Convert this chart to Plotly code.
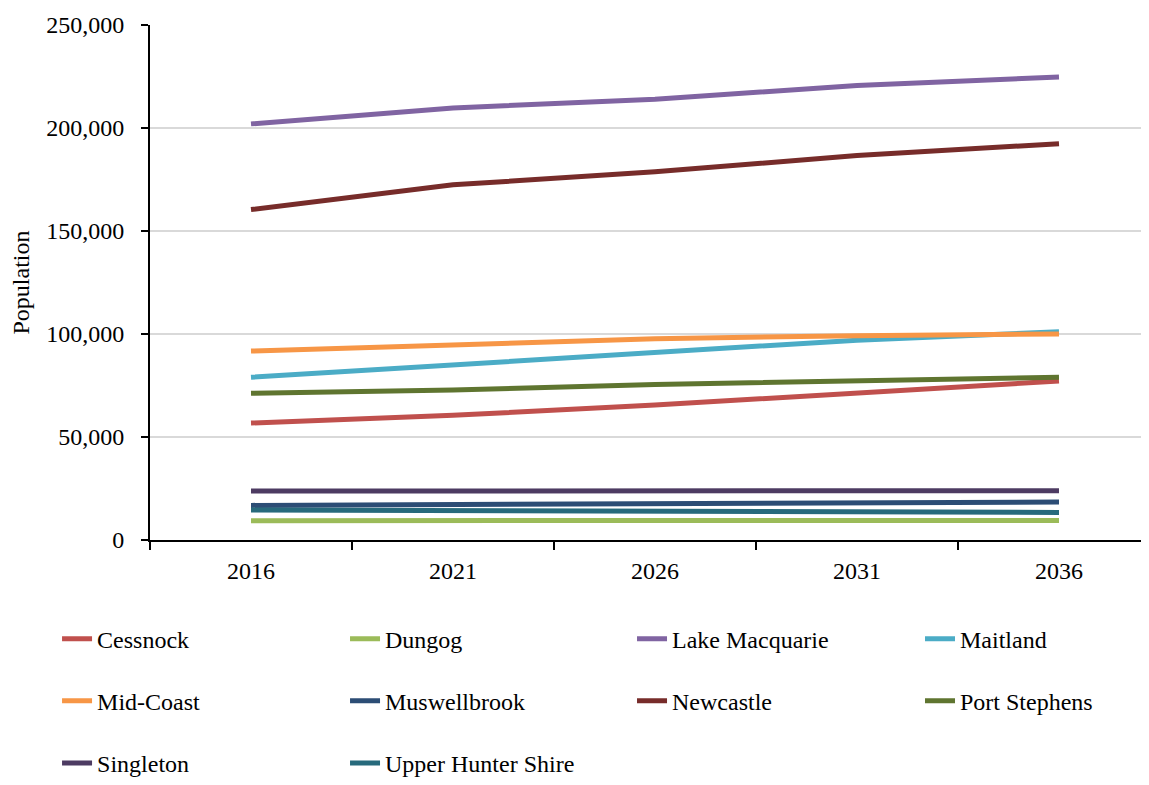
import plotly.graph_objects as go

years = ["2016", "2021", "2026", "2031", "2036"]

cessnock = [56800, 60500, 65500, 71500, 77200]
dungog = [9400, 9500, 9600, 9600, 9500]
lake_macquarie = [202000, 209700, 214000, 220600, 224800]
maitland = [79000, 85000, 91000, 97000, 101100]
mid_coast = [91700, 95000, 97700, 99200, 100000]
muswellbrook = [16800, 17200, 17700, 18100, 18400]
newcastle = [160400, 172400, 178800, 186600, 192400]
port_stephens = [71200, 72800, 75500, 77300, 79000]
singleton = [23800, 23900, 23900, 23900, 23900]
upper_hunter = [14600, 14300, 14000, 13700, 13400]

series = [
    ("Cessnock", cessnock, "#C0504D", "legend"),
    ("Dungog", dungog, "#9BBB59", "legend2"),
    ("Lake Macquarie", lake_macquarie, "#8064A2", "legend3"),
    ("Maitland", maitland, "#4BACC6", "legend4"),
    ("Mid-Coast", mid_coast, "#F79646", "legend"),
    ("Muswellbrook", muswellbrook, "#2C4D75", "legend2"),
    ("Newcastle", newcastle, "#772C2A", "legend3"),
    ("Port Stephens", port_stephens, "#5F7530", "legend4"),
    ("Singleton", singleton, "#4D3B62", "legend"),
    ("Upper Hunter Shire", upper_hunter, "#276A7C", "legend2"),
]

FONT = "Liberation Serif"
fig = go.Figure()
for name, vals, color, leg in series:
    fig.add_trace(go.Scatter(
        x=years, y=vals, name=name, mode="lines",
        line=dict(color=color, width=5),
        legend=leg, legendgroup=name,
    ))

leg_common = dict(
    orientation="v", yanchor="top", xanchor="left",
    font=dict(family=FONT, size=24, color="#000"),
    bgcolor="rgba(0,0,0,0)", borderwidth=0,
    tracegroupgap=28, itemclick=False,
)
legend_y = -0.1486
fig.update_layout(
    width=1133, height=769,
    margin=dict(l=142, r=0, t=17, b=237, autoexpand=False),
    paper_bgcolor="white", plot_bgcolor="white",
    font=dict(family=FONT, size=24, color="#000"),
    showlegend=True,
    legend=dict(x=-0.0938, y=legend_y, **leg_common),
    legend2=dict(x=0.1968, y=legend_y, **leg_common),
    legend3=dict(x=0.4864, y=legend_y, **leg_common),
    legend4=dict(x=0.7770, y=legend_y, **leg_common),
    xaxis=dict(
        type="category", range=[-0.5, 4.406],
        showline=True, linecolor="#000", linewidth=2,
        ticks="outside", tickson="boundaries", ticklen=8,
        tickcolor="#000", tickwidth=2,
        showgrid=False, zeroline=False,
        ticklabelstandoff=8,
        tickfont=dict(family=FONT, size=24, color="#000"),
    ),
    yaxis=dict(
        range=[0, 250000], tickvals=[0, 50000, 100000, 150000, 200000, 250000],
        tickformat=",d",
        showline=True, linecolor="#000", linewidth=2,
        ticks="outside", ticklen=7, tickcolor="#000", tickwidth=2,
        showgrid=True, gridcolor="#D9D9D9", gridwidth=2,
        zeroline=False,
        ticklabelstandoff=12,
        tickfont=dict(family=FONT, size=24, color="#000"),
        title=dict(text="Population", font=dict(family=FONT, size=24, color="#000"), standoff=14),
    ),
)

fig.write_html("out.html")
